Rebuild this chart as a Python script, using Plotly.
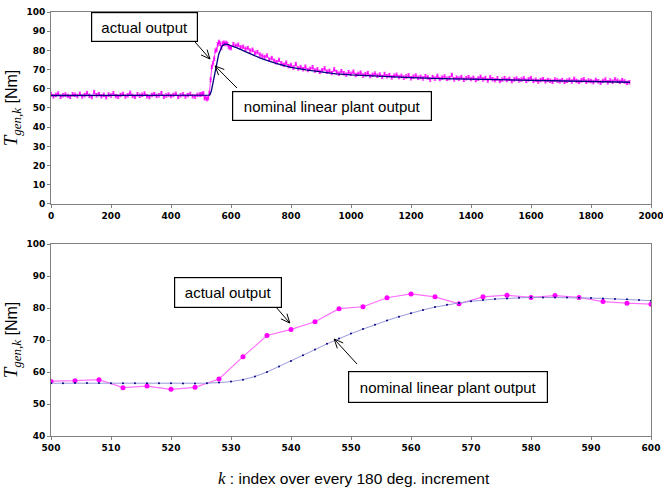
import math
import plotly.graph_objects as go

# ---------------- data ----------------
# actual output, k = 0..496 step 8
actual_seg1 = [57.2,56.1,56.8,57.5,55.9,56.6,57.0,56.3,55.8,57.1,56.9,56.2,57.4,56.0,56.7,57.8,
               56.4,55.7,58.3,56.6,57.2,56.1,56.9,55.6,57.0,56.5,57.6,56.2,55.9,56.8,57.3,56.0,
               56.6,57.9,56.3,55.8,57.1,56.4,56.9,57.5,56.1,55.7,56.8,57.2,56.3,56.6,57.7,55.9,
               56.5,57.0,56.2,56.8,57.4,55.8,56.6,57.1,56.0,56.7,57.3,56.2,55.9,56.8,57.0]
# actual output, k = 500..600 step 4
actual_seg2 = [57.0,57.3,57.6,55.1,55.6,54.6,55.2,57.8,64.8,71.4,73.3,75.7,79.8,80.4,83.2,84.4,
               83.5,81.3,83.5,84.0,83.3,83.9,83.3,82.0,81.5,81.2]
# actual output, k = 608.. step 8
actual_seg3 = [83.2,82.4,82.9,81.6,81.9,80.8,81.2,79.9,80.3,78.7,
               79.1,77.8,77.2,76.5,77.3,75.2,76.0,74.6,73.8,75.1,
               73.2,72.5,73.6,71.8,72.4,71.0,72.9,70.6,71.3,70.2,
               71.5,69.8,70.4,71.2,69.5,70.1,68.8,69.7,70.6,68.9,
               69.3,68.2,70.1,68.7,67.9,69.2,68.1,67.4,68.6,67.8,
               68.9,67.2,67.8,68.4,66.9,67.5,68.2,66.6,67.3,67.9,
               66.8,67.4,66.2,67.7,66.5,67.1,65.9,66.8,67.3,66.1,
               66.7,65.8,66.4,67.0,65.5,66.3,66.9,65.7,66.2,65.4,
               66.5,65.9,64.8,66.1,65.3,66.7,65.1,65.8,66.4,65.2,
               65.6,67.2,64.9,65.8,65.3,66.1,64.7,65.5,66.0,65.1,
               65.7,64.6,65.3,66.2,64.9,65.6,64.3,65.9,65.0,64.5,
               65.4,64.1,64.8,65.5,64.6,65.2,64.0,64.9,65.3,64.4,
               64.8,65.4,64.2,64.9,65.6,64.1,64.7,63.8,64.5,65.0,
               63.9,64.6,64.2,63.7,64.8,64.3,63.9,64.5,63.6,64.2,
               64.7,63.8,65.2,64.1,63.6,64.4,64.9,63.7,64.3,64.0,
               63.5,64.6,63.9,63.2,64.1,64.8,63.4,64.3,63.7,64.9,
               64.2,63.6,64.5,63.8,63.1,63.4]

actual_k = ([8 * i for i in range(len(actual_seg1))]
            + [500 + 4 * i for i in range(len(actual_seg2))]
            + [608 + 8 * i for i in range(len(actual_seg3))])
actual_val = actual_seg1 + actual_seg2 + actual_seg3

# nominal linear plant output
nominal_k_pre = [0, 100, 200, 300, 400, 480]
nominal_pre = [56.5, 56.5, 56.5, 56.5, 56.5, 56.5]
nominal_dense = [56.5,56.5,56.6,56.6,56.6,56.5,56.5,56.5,56.5,56.5,56.5,56.4,56.4,56.5,56.7,57.0,
                 57.6,58.6,60.0,61.7,63.4,65.2,67.0,68.8,70.5,72.0,73.4,74.8,76.1,77.3,78.4,79.4,
                 80.3,81.0,81.6,82.1,82.5,82.8,83.0,83.2,83.3,83.3,83.3,83.3,83.2,83.1,83.0,82.8,
                 82.7,82.5,82.3]
nominal_k_post = [620, 650, 700, 750, 800, 850, 900, 950, 1000, 1100, 1200, 1300, 1400, 1500,
                  1600, 1700, 1800, 1930]
nominal_post = [81.3, 79.2, 75.8, 73.2, 71.2, 69.8, 68.7, 67.8, 67.2, 66.4, 65.8, 65.3, 65.0,
                64.6, 64.3, 64.0, 63.8, 63.4]
nominal_k = nominal_k_pre + [500 + 2 * i for i in range(len(nominal_dense))] + nominal_k_post
nominal_val = nominal_pre + nominal_dense + nominal_post

# ---------------- figure ----------------
W, H = 663, 488
ML, MR, MT, MB = 51, 12, 12, 52
TOP_DOM = [0.5472, 1.0]
BOT_DOM = [0.0, 0.4528]

fig = go.Figure()

MAG = "#ff00ff"
NAVY = "#000080"

# top panel
fig.add_trace(go.Scatter(x=actual_k, y=actual_val, mode="lines+markers",
                         line=dict(color=MAG, width=0.8),
                         marker=dict(color=MAG, size=2.2),
                         error_y=dict(type="constant", value=0.9, color=MAG, thickness=0.8, width=1.2),
                         xaxis="x", yaxis="y", showlegend=False))
fig.add_trace(go.Scatter(x=nominal_k, y=nominal_val, mode="lines",
                         line=dict(color=NAVY, width=1.3),
                         xaxis="x", yaxis="y", showlegend=False))
# bottom panel
fig.add_trace(go.Scatter(x=actual_k, y=actual_val, mode="lines+markers",
                         line=dict(color="#ff70ff", width=1.2),
                         marker=dict(color=MAG, size=5),
                         xaxis="x2", yaxis="y2", showlegend=False))
fig.add_trace(go.Scatter(x=nominal_k, y=nominal_val, mode="lines+markers",
                         line=dict(color="#9999dd", width=1),
                         marker=dict(color=NAVY, size=2),
                         xaxis="x2", yaxis="y2", showlegend=False))

tickfont = dict(family="DejaVu Sans", size=9, color="black", weight="bold")
axcommon = dict(showgrid=False, zeroline=False, showline=True, linecolor="#808080",
                linewidth=1, mirror=True, ticks="outside", ticklen=3, tickcolor="#808080",
                tickfont=tickfont, ticklabeloverflow="allow")

ytitle = ('<span style="font-family:Liberation Serif;font-size:19px"><i>T</i></span>'
          '<sub><span style="font-family:Liberation Serif;font-size:13px"><i>gen,k</i></span></sub>'
          ' [Nm]')
ytfont = dict(family="Liberation Sans", size=16, color="black")

XR_TOP = [0, 2000]
YR_TOP = [0, 100]
XR_BOT = [500, 600]
YR_BOT = [40, 100]

fig.update_layout(
    width=W, height=H,
    margin=dict(l=ML, r=MR, t=MT, b=MB, autoexpand=False),
    paper_bgcolor="white", plot_bgcolor="white",
    xaxis=dict(domain=[0, 1], anchor="y", range=XR_TOP, dtick=200, **axcommon),
    yaxis=dict(domain=TOP_DOM, anchor="x", range=YR_TOP, dtick=10, **axcommon,
               title=dict(text=ytitle, font=ytfont, standoff=4)),
    xaxis2=dict(domain=[0, 1], anchor="y2", range=XR_BOT, dtick=10, **axcommon),
    yaxis2=dict(domain=BOT_DOM, anchor="x2", range=YR_BOT, dtick=10, **axcommon,
                title=dict(text=ytitle, font=ytfont, standoff=4)),
)

box_font = dict(family="Liberation Sans", size=15, color="black")


def textbox(text, x, y, xr, yr, w, h):
    fig.add_annotation(text=text, x=x, y=y, xref=xr, yref=yr, showarrow=False,
                       font=box_font, bgcolor="white", bordercolor="black", borderwidth=1.2,
                       width=w, height=h, borderpad=1)


PW = W - ML - MR
PH = H - MT - MB


def arrow(x0, y0, x1, y1, xr, yr, xrange, yrange, dom):
    sx = PW / (xrange[1] - xrange[0])
    sy = PH * (dom[1] - dom[0]) / (yrange[1] - yrange[0])
    dxp = (x1 - x0) * sx
    dyp = (y1 - y0) * sy
    L = math.hypot(dxp, dyp)
    ux, uy = dxp / L, dyp / L
    hl, hw = 9.0, 4.0
    pts = []
    for s in (1, -1):
        px = -ux * hl + s * (-uy) * hw
        py = -uy * hl + s * ux * hw
        pts.append((x1 + px / sx, y1 + py / sy))
    path = (f"M{x0},{y0} L{x1},{y1} M{pts[0][0]},{pts[0][1]} L{x1},{y1} "
            f"L{pts[1][0]},{pts[1][1]}")
    fig.add_shape(type="path", path=path, xref=xr, yref=yr,
                  line=dict(color="black", width=1))


# top panel annotations
textbox("actual output", 313, 92, "x", "y", 103, 26)
arrow(480, 84.4, 530, 75.5, "x", "y", XR_TOP, YR_TOP, TOP_DOM)
textbox("nominal linear plant output", 937, 51, "x", "y", 196, 26)
arrow(620, 60.4, 547, 71.9, "x", "y", XR_TOP, YR_TOP, TOP_DOM)

# bottom panel annotations
textbox("actual output", 529.5, 85, "x2", "y2", 104, 27)
arrow(537.5, 80.3, 539.8, 75.3, "x2", "y2", XR_BOT, YR_BOT, BOT_DOM)
textbox("nominal linear plant output", 566.2, 55.3, "x2", "y2", 196, 28)
arrow(551.0, 62.5, 547.2, 70.3, "x2", "y2", XR_BOT, YR_BOT, BOT_DOM)

# shared x-axis title
fig.add_annotation(text='<span style="font-family:Liberation Serif;font-size:17px"><i>k</i></span> : index over every 180 deg. increment',
                   x=0.505, y=-0.1, xref="paper", yref="paper", showarrow=False,
                   yanchor="middle",
                   font=dict(family="Liberation Sans", size=15.5, color="black"))

fig.write_html("out.html")
